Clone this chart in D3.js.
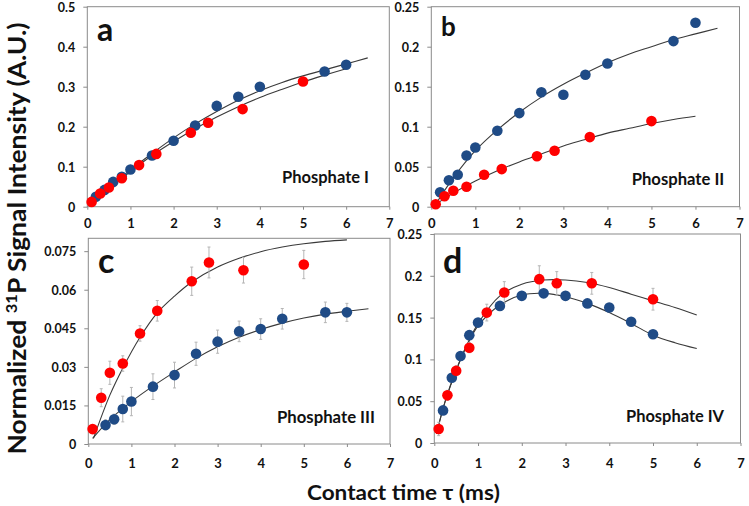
<!DOCTYPE html>
<html><head><meta charset="utf-8">
<script src="https://cdn.jsdelivr.net/npm/d3@7"></script>
<style>body{margin:0;background:#fff}svg{display:block}text{font-family:Lato,"Open Sans",sans-serif;font-weight:700;fill:#111}</style>
</head><body>
<svg id="c" width="749" height="506"></svg>
<script>
// ---- data ----
const xTicks = [0,1,2,3,4,5,6,7];
const yTicksA = [0,0.1,0.2,0.3,0.4,0.5];
const yTicksB = [0,0.05,0.1,0.15,0.2,0.25];
const yTicksC = [0,0.015,0.03,0.045,0.06,0.075];
const yTicksD = [0,0.05,0.1,0.15,0.2,0.25];

// Panel a – Phosphate I
const aBlueX = [0.2,0.4,0.6,0.8,1.0,1.5,2.0,2.5,3.0,3.5,4.0,5.5,6.0];
const aBlueY = [0.025,0.042,0.062,0.075,0.093,0.128,0.165,0.203,0.252,0.275,0.300,0.338,0.355];
const aRedX = [0.1,0.3,0.5,0.8,1.2,1.6,2.4,2.8,3.6,5.0];
const aRedY = [0.012,0.033,0.048,0.071,0.104,0.132,0.185,0.210,0.244,0.313];
const aFitBlueX = [0.1,0.5,1,1.5,2,2.5,3,3.5,4,4.5,5,5.5,6,6.5];
const aFitBlueY = [0.010,0.048,0.092,0.133,0.172,0.207,0.238,0.266,0.290,0.310,0.327,0.342,0.357,0.372];
const aFitRedX = [0.1,0.5,1,1.5,2,2.5,3,3.5,4,4.5,5,5.5,6];
const aFitRedY = [0.008,0.045,0.088,0.128,0.163,0.195,0.224,0.250,0.273,0.293,0.312,0.329,0.345];

// Panel b – Phosphate II
const bBlueX = [0.2,0.4,0.6,0.8,1.0,1.5,2.0,2.5,3.0,3.5,4.0,5.5,6.0];
const bBlueY = [0.018,0.033,0.040,0.064,0.074,0.095,0.117,0.143,0.140,0.165,0.179,0.207,0.230];
const bRedX = [0.1,0.3,0.5,0.8,1.2,1.6,2.4,2.8,3.6,5.0];
const bRedY = [0.003,0.013,0.020,0.025,0.040,0.047,0.063,0.070,0.087,0.107];
const bFitBlueX = [0.1,0.5,1,1.5,2,2.5,3,3.5,4,4.5,5,5.5,6,6.5];
const bFitBlueY = [0.003,0.036,0.070,0.096,0.118,0.137,0.153,0.167,0.180,0.191,0.200,0.209,0.216,0.223];
const bFitRedX = [0.1,0.5,1,1.5,2,2.5,3,3.5,4,4.5,5,5.5,6];
const bFitRedY = [0.003,0.017,0.032,0.045,0.056,0.066,0.076,0.084,0.092,0.098,0.104,0.109,0.113];

// Panel c – Phosphate III (with error bars)
const cBlueX = [0.4,0.6,0.8,1.0,1.5,2.0,2.5,3.0,3.5,4.0,4.5,5.5,6.0];
const cBlueY = [0.0074,0.0096,0.0136,0.0165,0.0223,0.0268,0.0351,0.0398,0.0438,0.0447,0.0487,0.0512,0.0512];
const cBlueErr = [0.002,0.002,0.005,0.0055,0.005,0.005,0.0045,0.0045,0.004,0.004,0.004,0.004,0.0035];
const cRedX = [0.1,0.3,0.5,0.8,1.2,1.6,2.4,2.8,3.6,5.0];
const cRedY = [0.0058,0.0180,0.0277,0.0313,0.0430,0.0518,0.0633,0.0706,0.0676,0.0698];
const cRedErr = [0.001,0.0035,0.0045,0.003,0.003,0.004,0.0055,0.006,0.005,0.0055];
const cFitBlueX = [0.1,0.5,1,1.5,2,2.5,3,3.5,4,4.5,5,5.5,6,6.5];
const cFitBlueY = [0.0022,0.0095,0.0165,0.0225,0.0280,0.0333,0.0378,0.0415,0.0445,0.0470,0.0490,0.0505,0.0516,0.0526];
const cFitRedX = [0.12,0.5,0.8,1.2,1.6,2,2.4,3,3.5,4,4.5,5,5.5,6];
const cFitRedY = [0.0022,0.0190,0.0295,0.0415,0.0510,0.0575,0.0630,0.0688,0.0722,0.0748,0.0766,0.0779,0.0788,0.0794];

// Panel d – Phosphate IV (red with error bars)
const dBlueX = [0.2,0.4,0.6,0.8,1.0,1.5,2.0,2.5,3.0,3.5,4.0,4.5,5.0];
const dBlueY = [0.039,0.078,0.104,0.129,0.144,0.164,0.176,0.179,0.176,0.167,0.162,0.145,0.130];
const dRedX = [0.1,0.3,0.5,0.8,1.2,1.6,2.4,2.8,3.6,5.0];
const dRedY = [0.0168,0.057,0.0864,0.114,0.156,0.180,0.196,0.191,0.191,0.172];
const dRedErr = [0.008,0.006,0.006,0.006,0.010,0.013,0.016,0.014,0.013,0.013];
const dFitBlueX = [0.05,0.25,0.5,0.75,1,1.5,2,2.5,3,3.5,4,4.5,5,5.5,6];
const dFitBlueY = [0.011,0.050,0.087,0.117,0.140,0.165,0.177,0.179,0.175,0.167,0.156,0.143,0.129,0.120,0.113];
const dFitRedX = [0.05,0.25,0.5,0.75,1,1.5,2,2.5,3,3.5,4,4.5,5,5.5,6];
const dFitRedY = [0.011,0.050,0.087,0.118,0.143,0.176,0.190,0.195,0.195,0.192,0.186,0.178,0.170,0.162,0.153];

const BLUE = "#1f4b86", RED = "#ff0000";
const zip = (xs, ys, es) => xs.map((x,i)=>({x, y: ys[i], e: es ? es[i] : null}));

// ---- layout ----
const panels = [
  {box:[87.3,389.3,6.7,206.7], yMax:0.5, yTicks:yTicksA, fmt:d=>String(d),
   blue:zip(aBlueX,aBlueY), red:zip(aRedX,aRedY),
   fits:[zip(aFitBlueX,aFitBlueY), zip(aFitRedX,aFitRedY)],
   letter:"a", lSize:32, lPos:[97,41], label:"Phosphate I", lab:[369,182.5], labW:87, xLabBase:228.5},
  {box:[431.3,739.5,6.7,206.7], yMax:0.25, yTicks:yTicksB, fmt:d=>String(d),
   blue:zip(bBlueX,bBlueY), red:zip(bRedX,bRedY),
   fits:[zip(bFitBlueX,bFitBlueY), zip(bFitRedX,bFitRedY)],
   letter:"b", lSize:26, lPos:[441,36], label:"Phosphate II", lab:[724.3,185], labW:92.6, xLabBase:228.5},
  {box:[88.3,390,238.3,444], yMax:0.08, yTicks:yTicksC, fmt:d=>String(d),
   blue:zip(cBlueX,cBlueY,cBlueErr), red:zip(cRedX,cRedY,cRedErr),
   fits:[zip(cFitBlueX,cFitBlueY), zip(cFitRedX,cFitRedY)],
   letter:"c", lSize:34, lPos:[98,273], label:"Phosphate III", lab:[375,422.7], labW:98, xLabBase:468},
  {box:[434.3,740.5,234,443], yMax:0.25, yTicks:yTicksD, fmt:d=>String(d),
   blue:zip(dBlueX,dBlueY), red:zip(dRedX,dRedY,dRedErr),
   fits:[zip(dFitBlueX,dFitBlueY), zip(dFitRedX,dFitRedY)],
   letter:"d", lSize:34, lPos:[443,273], label:"Phosphate IV", lab:[724,421.7], labW:98, xLabBase:468}
];

const svg = d3.select("#c");

panels.forEach(p => {
  const [l,r,t,b] = p.box;
  const x = d3.scaleLinear().domain([0,7]).range([l,r]);
  const y = d3.scaleLinear().domain([0,p.yMax]).range([b,t]);
  const g = svg.append("g");

  // frame
  g.append("rect").attr("x",l).attr("y",t).attr("width",r-l).attr("height",b-t)
    .attr("fill","#fff").attr("stroke","#8a8a8a").attr("stroke-width",1);

  // y axis
  const ya = d3.axisLeft(y).tickValues(p.yTicks).tickFormat(p.fmt).tickSize(4).tickPadding(8);
  const yg = g.append("g").attr("transform",`translate(${l},0)`).call(ya);
  yg.select(".domain").remove();
  yg.selectAll("line").attr("stroke","#8a8a8a");
  yg.selectAll("text").attr("font-size",12.5).attr("font-family","Lato, 'Open Sans', sans-serif").attr("font-weight",700).attr("fill","#111").attr("dy","0.36em");

  // x axis
  const xa = d3.axisBottom(x).tickValues(xTicks).tickFormat(d3.format("d")).tickSize(3).tickPadding(0);
  const xg = g.append("g").attr("transform",`translate(0,${b})`).call(xa);
  xg.select(".domain").remove();
  xg.selectAll("line").attr("stroke","#8a8a8a");
  xg.selectAll("text").attr("font-size",13).attr("font-family","Lato, 'Open Sans', sans-serif").attr("font-weight",700).attr("fill","#111")
    .attr("dy",null).attr("y", p.xLabBase - b);

  // fit curves
  const line = d3.line().x(d=>x(d.x)).y(d=>y(d.y)).curve(d3.curveCatmullRom.alpha(0.5));
  p.fits.forEach(f => g.append("path").attr("d",line(f)).attr("fill","none")
    .attr("stroke","#3a3a3a").attr("stroke-width",1.1));

  // error bars
  [p.blue, p.red].forEach(s => s.filter(d=>d.e).forEach(d => {
    g.append("line").attr("x1",x(d.x)).attr("x2",x(d.x)).attr("y1",y(d.y-d.e)).attr("y2",y(d.y+d.e))
      .attr("stroke","#b5b5b5").attr("stroke-width",1);
    [d.y-d.e, d.y+d.e].forEach(v => g.append("line").attr("x1",x(d.x)-1.5).attr("x2",x(d.x)+1.5)
      .attr("y1",y(v)).attr("y2",y(v)).attr("stroke","#b5b5b5").attr("stroke-width",1));
  }));

  // points
  g.selectAll(".bp").data(p.blue).join("circle").attr("cx",d=>x(d.x)).attr("cy",d=>y(d.y)).attr("r",5.3).attr("fill",BLUE);
  g.selectAll(".rp").data(p.red).join("circle").attr("cx",d=>x(d.x)).attr("cy",d=>y(d.y)).attr("r",5.3).attr("fill",RED);

  // panel letter and label
  g.append("text").attr("x",p.lPos[0]).attr("y",p.lPos[1]).attr("font-size",p.lSize).attr("font-weight",900).text(p.letter);
  g.append("text").attr("x",p.lab[0]).attr("y",p.lab[1]).attr("text-anchor","end")
    .attr("font-size",17).attr("textLength",p.labW).attr("lengthAdjust","spacingAndGlyphs").text(p.label);
});

// y axis title
const yt = svg.append("text").attr("transform","translate(26,238.5) rotate(-90)")
  .attr("text-anchor","middle").attr("font-size",24)
  .attr("textLength",432).attr("lengthAdjust","spacingAndGlyphs");
yt.append("tspan").text("Normalized ");
yt.append("tspan").attr("font-size",15).attr("dy",-9).text("31");
yt.append("tspan").attr("dy",9).text("P Signal Intensity (A.U.)");

// x axis title
svg.append("text").attr("x",403.5).attr("y",500).attr("text-anchor","middle")
  .attr("font-size",21).attr("textLength",193).attr("lengthAdjust","spacingAndGlyphs")
  .text("Contact time τ (ms)");
</script>
</body></html>
